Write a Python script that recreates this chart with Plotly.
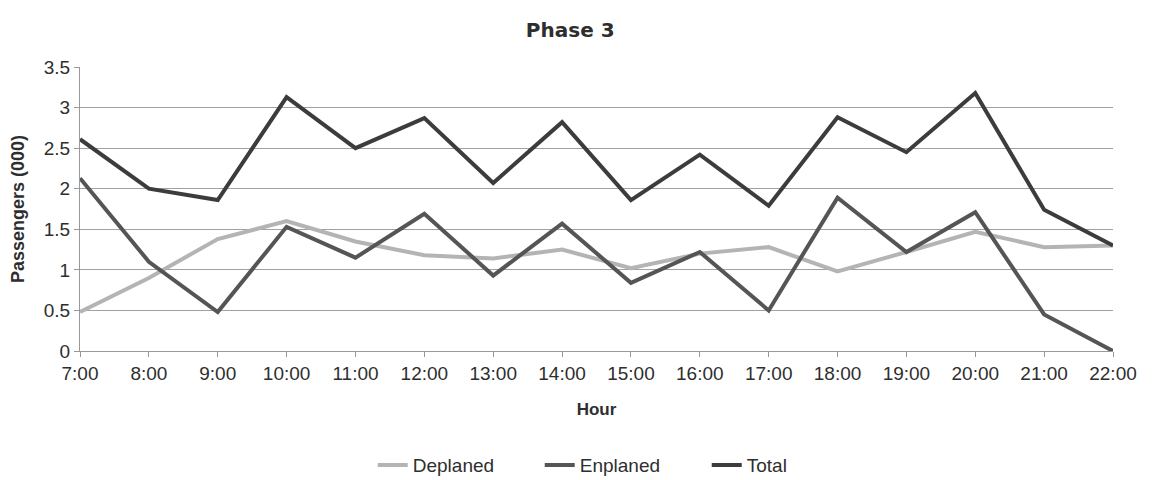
import plotly.graph_objects as go

hours = ["7:00", "8:00", "9:00", "10:00", "11:00", "12:00", "13:00", "14:00",
         "15:00", "16:00", "17:00", "18:00", "19:00", "20:00", "21:00", "22:00"]
deplaned = [0.48, 0.90, 1.38, 1.60, 1.35, 1.18, 1.14, 1.25, 1.02, 1.20, 1.28, 0.98, 1.22, 1.47, 1.28, 1.30]
enplaned = [2.13, 1.10, 0.48, 1.53, 1.15, 1.69, 0.93, 1.57, 0.84, 1.22, 0.50, 1.89, 1.22, 1.71, 0.45, 0.00]
total = [2.61, 2.00, 1.86, 3.13, 2.50, 2.87, 2.07, 2.82, 1.86, 2.42, 1.79, 2.88, 2.45, 3.18, 1.74, 1.30]

x = list(range(len(hours)))
fig = go.Figure()
fig.add_trace(go.Scatter(x=x, y=deplaned, mode="lines", name="Deplaned",
                         line=dict(color="#b4b4b4", width=4)))
fig.add_trace(go.Scatter(x=x, y=enplaned, mode="lines", name="Enplaned",
                         line=dict(color="#555555", width=4)))
fig.add_trace(go.Scatter(x=x, y=total, mode="lines", name="Total",
                         line=dict(color="#3c3c3c", width=4)))

fig.update_layout(
    width=1152, height=480,
    margin=dict(l=80, r=39, t=67, b=129, autoexpand=False),
    paper_bgcolor="white", plot_bgcolor="white",
    font=dict(family="Liberation Sans, Arial, sans-serif", size=19, color="#2e2e2e"),
    title=dict(text="<b>Phase 3</b>", x=0.495, xanchor="center", y=0.9375, yanchor="middle",
               font=dict(family="DejaVu Sans, sans-serif", size=20, color="#2e2e2e")),
    showlegend=True,
    legend=dict(orientation="h", x=0.541, xanchor="center", xref="container",
                y=0.031, yanchor="middle", yref="container",
                font=dict(size=19), traceorder="normal", entrywidth=122, entrywidthmode="pixels"),
)
fig.update_xaxes(
    tickmode="array", tickvals=x, ticktext=hours, range=[0, 15],
    showgrid=False, showline=True, linecolor="#999999", linewidth=1,
    ticks="outside", ticklen=5, tickcolor="#999999", automargin=False,
    title=dict(text="<b>Hour</b>", font=dict(size=17), standoff=20),
)
fig.update_yaxes(
    range=[0, 3.5], tickvals=[0, 0.5, 1, 1.5, 2, 2.5, 3, 3.5],
    ticktext=["0", "0.5", "1", "1.5", "2", "2.5", "3", "3.5"],
    showgrid=True, gridcolor="#a0a0a0", gridwidth=1,
    showline=True, linecolor="#999999", linewidth=1,
    ticks="outside", ticklen=5, tickcolor="#999999", automargin=False,
    zeroline=False,
    title=dict(text="<b>Passengers (000)</b>", font=dict(size=18), standoff=14),
)
fig.write_html("out.html")
